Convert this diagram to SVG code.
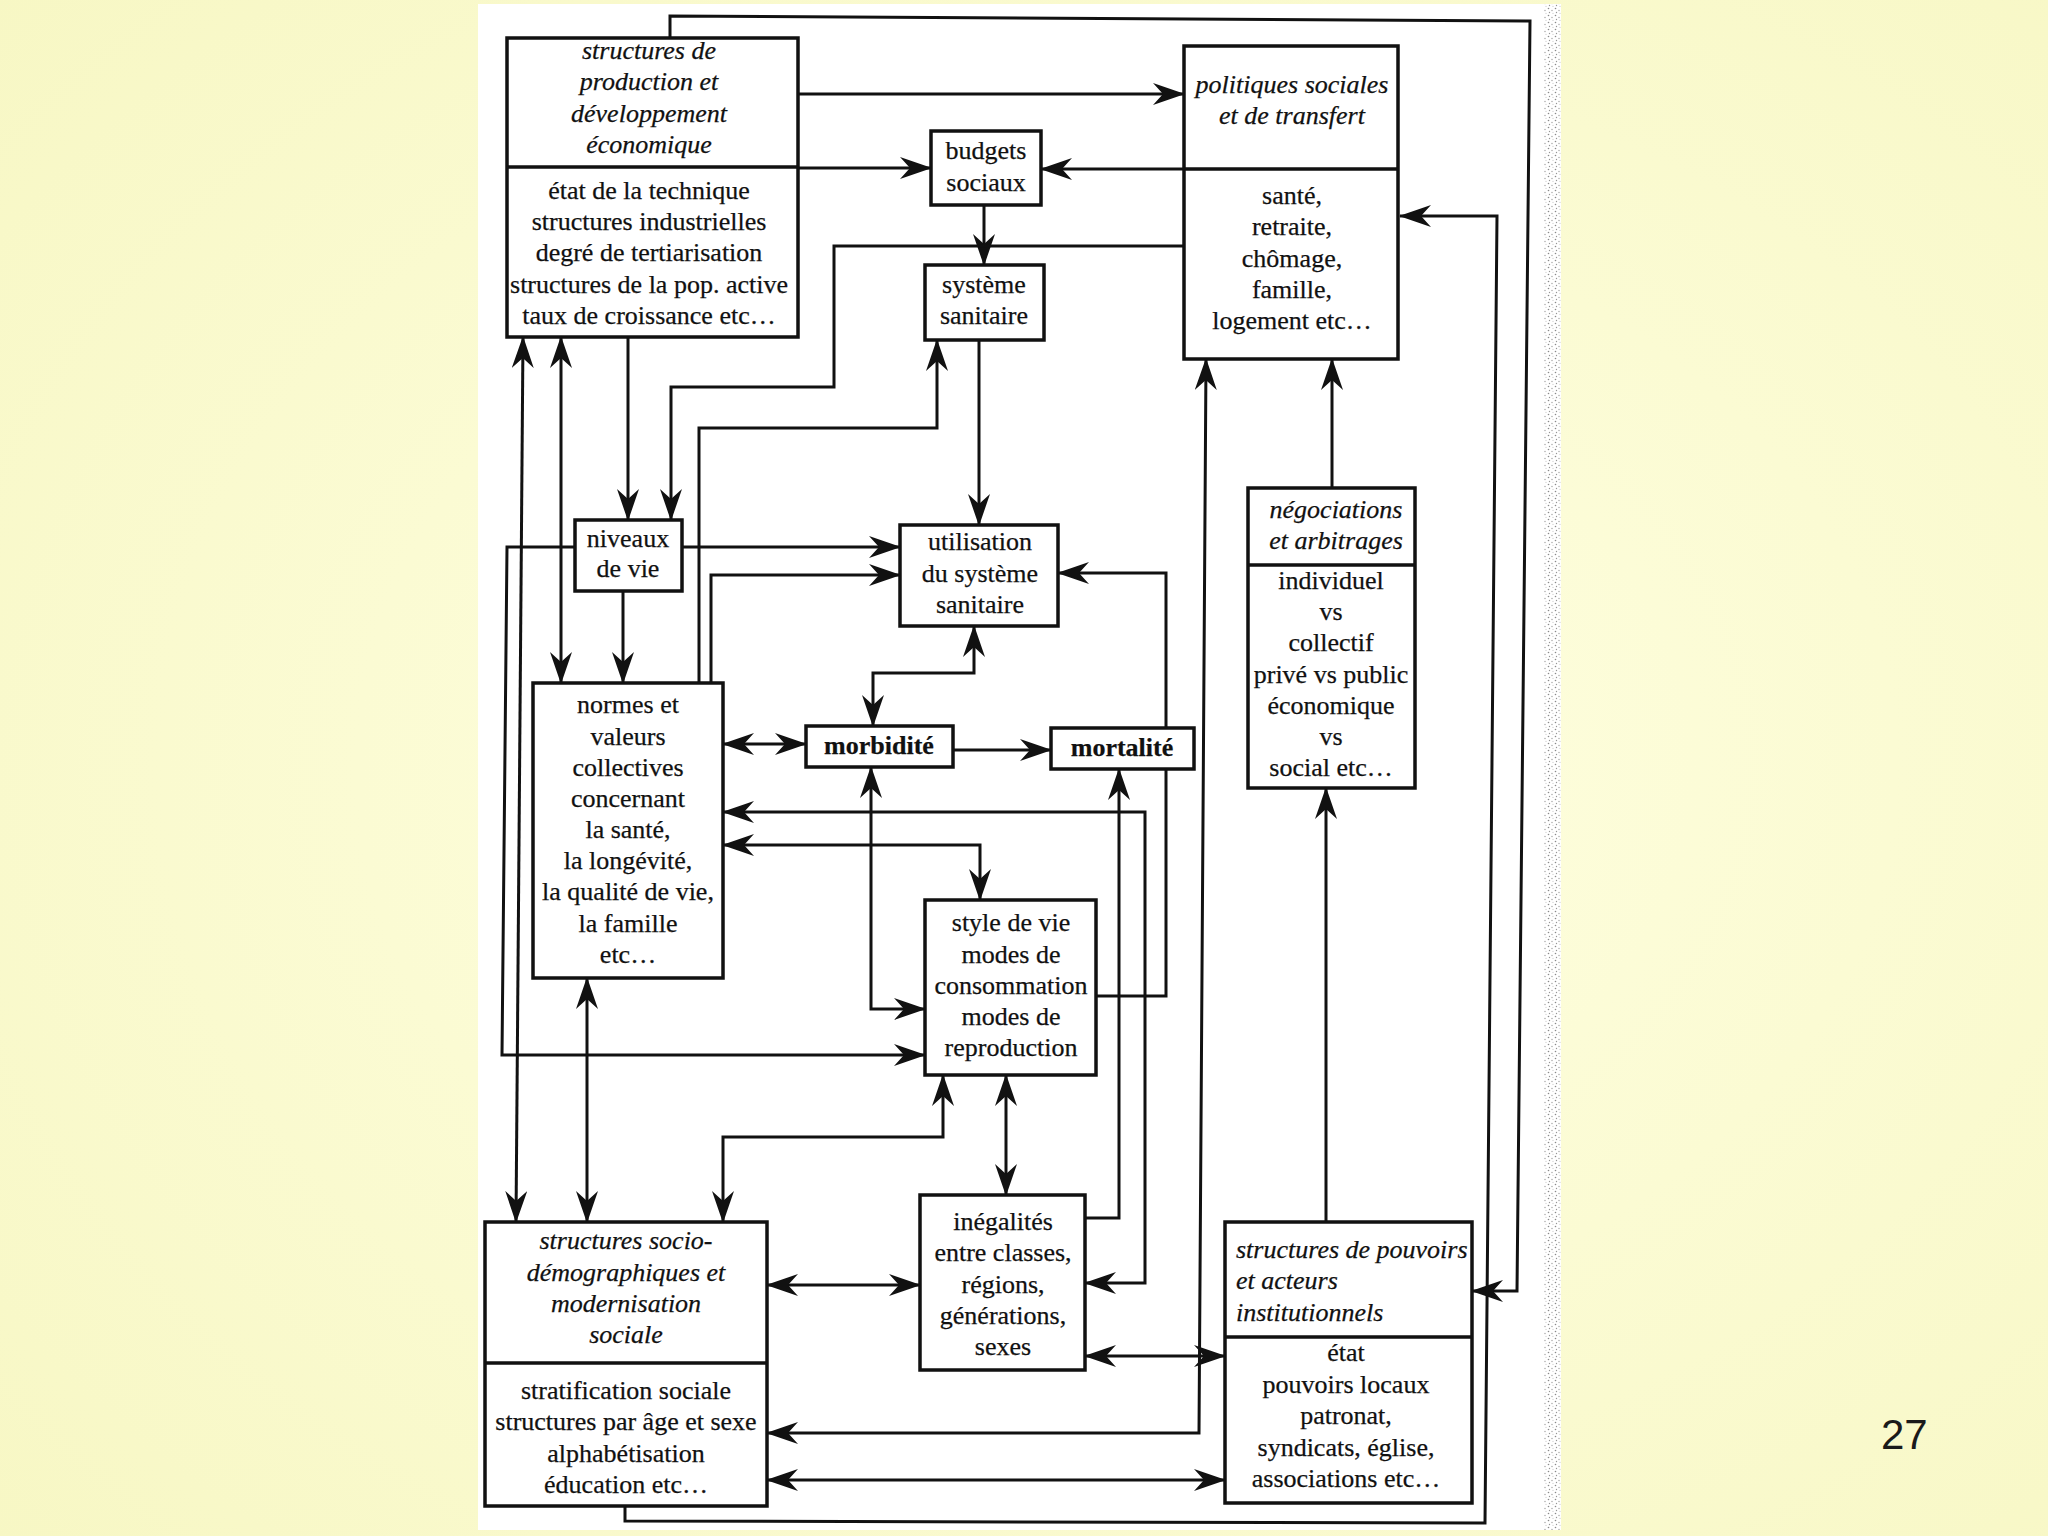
<svg xmlns="http://www.w3.org/2000/svg" width="2048" height="1536" viewBox="0 0 2048 1536">
<defs>
<radialGradient id="bg" cx="55%" cy="50%" r="75%">
<stop offset="0" stop-color="#FFFFE2"/>
<stop offset="1" stop-color="#F7F7C4"/>
</radialGradient>
<pattern id="spk" width="7" height="7" patternUnits="userSpaceOnUse">
<circle cx="1.5" cy="1.5" r="0.8" fill="#8a8a8a"/>
<circle cx="5" cy="3.5" r="0.7" fill="#a0a0a0"/>
<circle cx="2.5" cy="5.5" r="0.7" fill="#959595"/>
<circle cx="6" cy="6.2" r="0.5" fill="#b0b0b0"/>
</pattern>
<marker id="ah" viewBox="0 0 32 22" refX="31" refY="11" markerWidth="32" markerHeight="22" markerUnits="userSpaceOnUse" orient="auto-start-reverse">
<path d="M0,0 L32,11 L0,22 L10,11 Z" fill="#111"/>
</marker>
<style>
.ln{fill:none;stroke:#111;stroke-width:3;stroke-linejoin:miter}
.one{marker-end:url(#ah)}
.two{marker-start:url(#ah);marker-end:url(#ah)}
.box{fill:#fff;stroke:#111;stroke-width:3.5}
.dv{stroke:#111;stroke-width:3.5}
.t{font-family:"Liberation Serif","Times New Roman",serif;font-size:26px;fill:#111;text-anchor:middle;stroke:#111;stroke-width:0.25}
.i{font-style:italic}
.b{font-weight:bold}
.l{text-anchor:start}
.pg{font-family:"Liberation Sans",Arial,sans-serif;font-size:42px;fill:#1a1a1a}
</style>
</defs>
<rect x="0" y="0" width="2048" height="1536" fill="url(#bg)"/>
<rect x="478" y="4" width="1083" height="1526" fill="#ffffff"/>
<rect x="1544" y="4" width="17" height="1526" fill="url(#spk)"/>
<text class="pg" x="1881" y="1449">27</text>

<g id="connectors">
<path class="ln one" d="M670,38 V16 L1530,21 L1517,1291 H1472"/>
<path class="ln one" d="M625,1506 V1521 L1485,1523 L1497,216 H1400"/>
<path class="ln one" d="M798,94 H1184"/>
<path class="ln one" d="M798,168 H931"/>
<path class="ln one" d="M1184,169 H1041"/>
<path class="ln one" d="M984,205 V265"/>
<path class="ln one" d="M1184,246 H834 V387 H671 V520"/>
<path class="ln one" d="M699,683 V428 H937 V340"/>
<path class="ln one" d="M711,683 V575 H900"/>
<path class="ln one" d="M682,547 H900"/>
<path class="ln one" d="M575,547 H507 L502,1055 H925"/>
<path class="ln two" d="M523,337 L516,1222"/>
<path class="ln two" d="M561,337 V683"/>
<path class="ln one" d="M628,337 V520"/>
<path class="ln one" d="M623,591 V683"/>
<path class="ln one" d="M979,340 V525"/>
<path class="ln two" d="M974,626 V673 H873 V726"/>
<path class="ln two" d="M723,744 H806"/>
<path class="ln one" d="M953,750 H1051"/>
<path class="ln two" d="M925,1009 H871 V767"/>
<path class="ln two" d="M723,812 H1145 V1283 H1085"/>
<path class="ln one" d="M1085,1218 H1119 V769"/>
<path class="ln one" d="M1096,996 H1166 V573 H1058"/>
<path class="ln two" d="M723,845 H980 V900"/>
<path class="ln two" d="M587,978 V1222"/>
<path class="ln two" d="M723,1222 V1137 H943 V1075"/>
<path class="ln two" d="M1006,1075 V1195"/>
<path class="ln two" d="M767,1285 H920"/>
<path class="ln two" d="M767,1433 H1199 L1206,359"/>
<path class="ln two" d="M1085,1356 H1225"/>
<path class="ln two" d="M767,1480 H1225"/>
<path class="ln one" d="M1326,1222 V788"/>
<path class="ln one" d="M1332,488 V359"/>
</g>

<g id="production">
<rect class="box" x="507" y="38" width="291" height="299"/>
<line class="dv" x1="507" y1="167" x2="798" y2="167"/>
<text class="t i" x="649" y="59">structures de</text>
<text class="t i" x="649" y="90">production et</text>
<text class="t i" x="649" y="122">développement</text>
<text class="t i" x="649" y="153">économique</text>
<text class="t" x="649" y="199">état de la technique</text>
<text class="t" x="649" y="230">structures industrielles</text>
<text class="t" x="649" y="261">degré de tertiarisation</text>
<text class="t" x="649" y="293">structures de la pop. active</text>
<text class="t" x="649" y="324">taux de croissance etc…</text>
</g>

<g id="budgets">
<rect class="box" x="931" y="131" width="110" height="74"/>
<text class="t" x="986" y="159">budgets</text>
<text class="t" x="986" y="191">sociaux</text>
</g>

<g id="systeme">
<rect class="box" x="925" y="265" width="119" height="75"/>
<text class="t" x="984" y="293">système</text>
<text class="t" x="984" y="324">sanitaire</text>
</g>

<g id="politiques">
<rect class="box" x="1184" y="46" width="214" height="313"/>
<line class="dv" x1="1184" y1="169" x2="1398" y2="169"/>
<text class="t i" x="1292" y="93">politiques sociales</text>
<text class="t i" x="1292" y="124">et de transfert</text>
<text class="t" x="1292" y="204">santé,</text>
<text class="t" x="1292" y="235">retraite,</text>
<text class="t" x="1292" y="267">chômage,</text>
<text class="t" x="1292" y="298">famille,</text>
<text class="t" x="1292" y="329">logement etc…</text>
</g>

<g id="niveaux">
<rect class="box" x="575" y="520" width="107" height="71"/>
<text class="t" x="628" y="547">niveaux</text>
<text class="t" x="628" y="577">de vie</text>
</g>

<g id="utilisation">
<rect class="box" x="900" y="525" width="158" height="101"/>
<text class="t" x="980" y="550">utilisation</text>
<text class="t" x="980" y="582">du système</text>
<text class="t" x="980" y="613">sanitaire</text>
</g>

<g id="normes">
<rect class="box" x="533" y="683" width="190" height="295"/>
<text class="t" x="628" y="713">normes et</text>
<text class="t" x="628" y="745">valeurs</text>
<text class="t" x="628" y="776">collectives</text>
<text class="t" x="628" y="807">concernant</text>
<text class="t" x="628" y="838">la santé,</text>
<text class="t" x="628" y="869">la longévité,</text>
<text class="t" x="628" y="900">la qualité de vie,</text>
<text class="t" x="628" y="932">la famille</text>
<text class="t" x="628" y="963">etc…</text>
</g>

<g id="morbidite">
<rect class="box" x="806" y="726" width="147" height="41"/>
<text class="t b" x="879" y="754">morbidité</text>
</g>

<g id="mortalite">
<rect class="box" x="1051" y="728" width="143" height="41"/>
<text class="t b" x="1122" y="756">mortalité</text>
</g>

<g id="style">
<rect class="box" x="925" y="900" width="171" height="175"/>
<text class="t" x="1011" y="931">style de vie</text>
<text class="t" x="1011" y="963">modes de</text>
<text class="t" x="1011" y="994">consommation</text>
<text class="t" x="1011" y="1025">modes de</text>
<text class="t" x="1011" y="1056">reproduction</text>
</g>

<g id="inegalites">
<rect class="box" x="920" y="1195" width="165" height="175"/>
<text class="t" x="1003" y="1230">inégalités</text>
<text class="t" x="1003" y="1261">entre classes,</text>
<text class="t" x="1003" y="1293">régions,</text>
<text class="t" x="1003" y="1324">générations,</text>
<text class="t" x="1003" y="1355">sexes</text>
</g>

<g id="negociations">
<rect class="box" x="1248" y="488" width="167" height="300"/>
<line class="dv" x1="1248" y1="565" x2="1415" y2="565"/>
<text class="t i" x="1336" y="518">négociations</text>
<text class="t i" x="1336" y="549">et arbitrages</text>
<text class="t" x="1331" y="589">individuel</text>
<text class="t" x="1331" y="620">vs</text>
<text class="t" x="1331" y="651">collectif</text>
<text class="t" x="1331" y="683">privé vs public</text>
<text class="t" x="1331" y="714">économique</text>
<text class="t" x="1331" y="745">vs</text>
<text class="t" x="1331" y="776">social etc…</text>
</g>

<g id="sociodemo">
<rect class="box" x="485" y="1222" width="282" height="284"/>
<line class="dv" x1="485" y1="1363" x2="767" y2="1363"/>
<text class="t i" x="626" y="1249">structures socio-</text>
<text class="t i" x="626" y="1281">démographiques et</text>
<text class="t i" x="626" y="1312">modernisation</text>
<text class="t i" x="626" y="1343">sociale</text>
<text class="t" x="626" y="1399">stratification sociale</text>
<text class="t" x="626" y="1430">structures par âge et sexe</text>
<text class="t" x="626" y="1462">alphabétisation</text>
<text class="t" x="626" y="1493">éducation etc…</text>
</g>

<g id="pouvoirs">
<rect class="box" x="1225" y="1222" width="247" height="281"/>
<line class="dv" x1="1225" y1="1337" x2="1472" y2="1337"/>
<text class="t i l" x="1236" y="1258">structures de pouvoirs</text>
<text class="t i l" x="1236" y="1289">et acteurs</text>
<text class="t i l" x="1236" y="1321">institutionnels</text>
<text class="t" x="1346" y="1361">état</text>
<text class="t" x="1346" y="1393">pouvoirs locaux</text>
<text class="t" x="1346" y="1424">patronat,</text>
<text class="t" x="1346" y="1456">syndicats, église,</text>
<text class="t" x="1346" y="1487">associations etc…</text>
</g>
</svg>
